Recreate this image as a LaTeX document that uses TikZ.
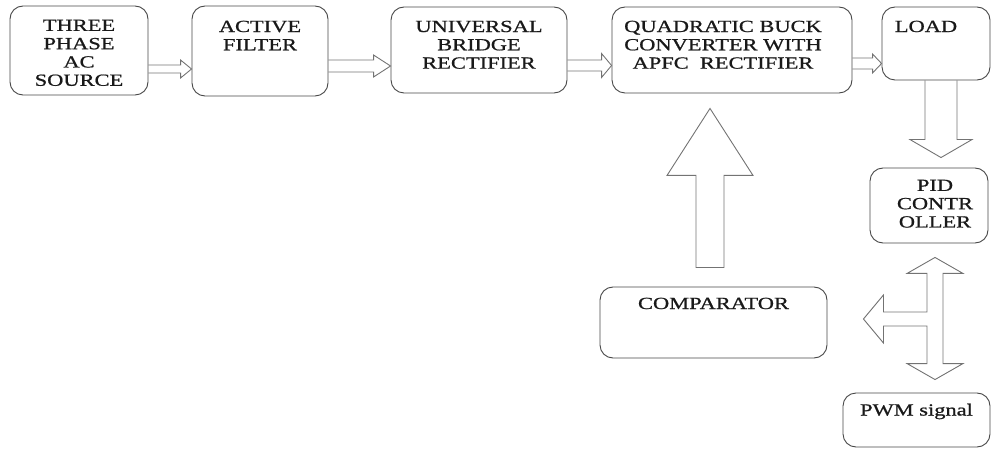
\documentclass[tikz,border=0pt]{standalone}
\usepackage{fontspec}
\usepackage{tikz}
\usetikzlibrary{calc,positioning}
\newfontfamily\blkfont[FakeStretch=1.32,FakeBold=0.9]{Liberation Serif}
\tikzset{%
  blk/.style={draw=black!72, line width=0.9pt, rounded corners=13pt, inner sep=0pt},
  blktxt/.style={font=\blkfont\fontsize{17}{18.3}\selectfont, text=black!90, align=center, inner sep=0pt},
  blkarr/.style={draw=black!55, line width=0.9pt, line join=miter}
}

\begin{document}
\begin{tikzpicture}[x=1pt,y=-1pt]
    \useasboundingbox (0,0) rectangle (991,449);
    % boxes
    \node[blk, minimum width=138pt, minimum height=89pt] (src) at (79,50.5) {};
    \node[blk, minimum width=136pt, minimum height=90pt] (afl) at (260,51) {};
    \node[blk, minimum width=176pt, minimum height=86pt] (ubr) at (479,50) {};
    \node[blk, minimum width=240pt, minimum height=86pt] (qbc) at (732,50) {};
    \node[blk, minimum width=108pt, minimum height=73pt] (load) at (936,43.5) {};
    \node[blk, minimum width=118pt, minimum height=75pt] (pid) at (929,205.5) {};
    \node[blk, minimum width=227pt, minimum height=71pt] (cmp) at (713.5,322.5) {};
    \node[blk, minimum width=147pt, minimum height=54pt] (pwm) at (916.5,420) {};
    % texts
    \node[blktxt, below=14pt of src.north] (src-t) {THREE\\PHASE\\AC\\SOURCE};
    \node[blktxt, below=15pt of afl.north] (afl-t) {ACTIVE\\FILTER};
    \node[blktxt, below=14pt of ubr.north] (ubr-t) {UNIVERSAL\\BRIDGE\\RECTIFIER};
    \node[blktxt, below=14pt of qbc.north, xshift=-9pt] (qbc-t) {QUADRATIC BUCK\\CONVERTER WITH\\APFC\ \ RECTIFIER};
    \node[blktxt, below=14pt of load.north, xshift=-10pt] (load-t) {LOAD};
    \node[blktxt, below=12pt of pid.north, xshift=6pt] (pid-t) {PID\\CONTR\\OLLER};
    \node[blktxt, below=11pt of cmp.north] (cmp-t) {COMPARATOR};
    \node[blktxt, below=11pt of pwm.north] (pwm-t) {PWM signal};
    % arrow levels
    \coordinate (y1) at (0,69);
    \coordinate (y2) at (0,66);
    \coordinate (y3) at (0,65.5);
    \coordinate (y4) at (0,63.5);
    \coordinate (x5) at (941,0);
    \coordinate (x6) at (710,0);
    \coordinate (c7) at (935,319);
    % block arrows
    \draw[blkarr] ($(src.east|-y1)+(0,-4)$) -- ($(afl.west|-y1)+(-11,-4)$) -- ($(afl.west|-y1)+(-11,-9)$) -- (afl.west|-y1) -- ($(afl.west|-y1)+(-11,9)$) -- ($(afl.west|-y1)+(-11,4)$) -- ($(src.east|-y1)+(0,4)$);
    \draw[blkarr] ($(afl.east|-y2)+(0,-6)$) -- ($(ubr.west|-y2)+(-17,-6)$) -- ($(ubr.west|-y2)+(-17,-11)$) -- (ubr.west|-y2) -- ($(ubr.west|-y2)+(-17,11)$) -- ($(ubr.west|-y2)+(-17,6)$) -- ($(afl.east|-y2)+(0,6)$);
    \draw[blkarr] ($(ubr.east|-y3)+(0,-5.5)$) -- ($(qbc.west|-y3)+(-10,-5.5)$) -- ($(qbc.west|-y3)+(-10,-12)$) -- (qbc.west|-y3) -- ($(qbc.west|-y3)+(-10,12)$) -- ($(qbc.west|-y3)+(-10,5.5)$) -- ($(ubr.east|-y3)+(0,5.5)$);
    \draw[blkarr] ($(qbc.east|-y4)+(0,-5.5)$) -- ($(load.west|-y4)+(-9,-5.5)$) -- ($(load.west|-y4)+(-9,-9.5)$) -- (load.west|-y4) -- ($(load.west|-y4)+(-9,9.5)$) -- ($(load.west|-y4)+(-9,5.5)$) -- ($(qbc.east|-y4)+(0,5.5)$);
    \draw[blkarr] ($(load.south-|x5)+(-16,0)$) -- ($(pid.north-|x5)+(-16,-28)$) -- ($(pid.north-|x5)+(-31,-28)$) -- ($(pid.north-|x5)+(0,-10)$) -- ($(pid.north-|x5)+(31,-28)$) -- ($(pid.north-|x5)+(16,-28)$) -- ($(load.south-|x5)+(16,0)$);
    \draw[blkarr] ($(cmp.north-|x6)+(-14,-19)$) -- ($(qbc.south-|x6)+(-14,82)$) -- ($(qbc.south-|x6)+(-43,82)$) -- ($(qbc.south-|x6)+(0,15)$) -- ($(qbc.south-|x6)+(43,82)$) -- ($(qbc.south-|x6)+(14,82)$) -- ($(cmp.north-|x6)+(14,-19)$) -- cycle;
    \draw[blkarr] ($(pid.south-|c7)+(0,14)$) -- ($(pid.south-|c7)+(28,30)$) -- ($(pid.south-|c7)+(8,30)$) -- ($(pwm.north-|c7)+(8,-29)$) -- ($(pwm.north-|c7)+(28,-29)$) -- ($(pwm.north-|c7)+(0,-13)$) -- ($(pwm.north-|c7)+(-28,-29)$) -- ($(pwm.north-|c7)+(-8,-29)$) -- ($(c7)+(-8,7)$) -- ($(cmp.east|-c7)+(56,7)$) -- ($(cmp.east|-c7)+(56,24)$) -- ($(cmp.east|-c7)+(36,0)$) -- ($(cmp.east|-c7)+(56,-24)$) -- ($(cmp.east|-c7)+(56,-7)$) -- ($(c7)+(-8,-7)$) -- ($(pid.south-|c7)+(-8,30)$) -- ($(pid.south-|c7)+(-28,30)$) -- cycle;
\end{tikzpicture}
\end{document}
